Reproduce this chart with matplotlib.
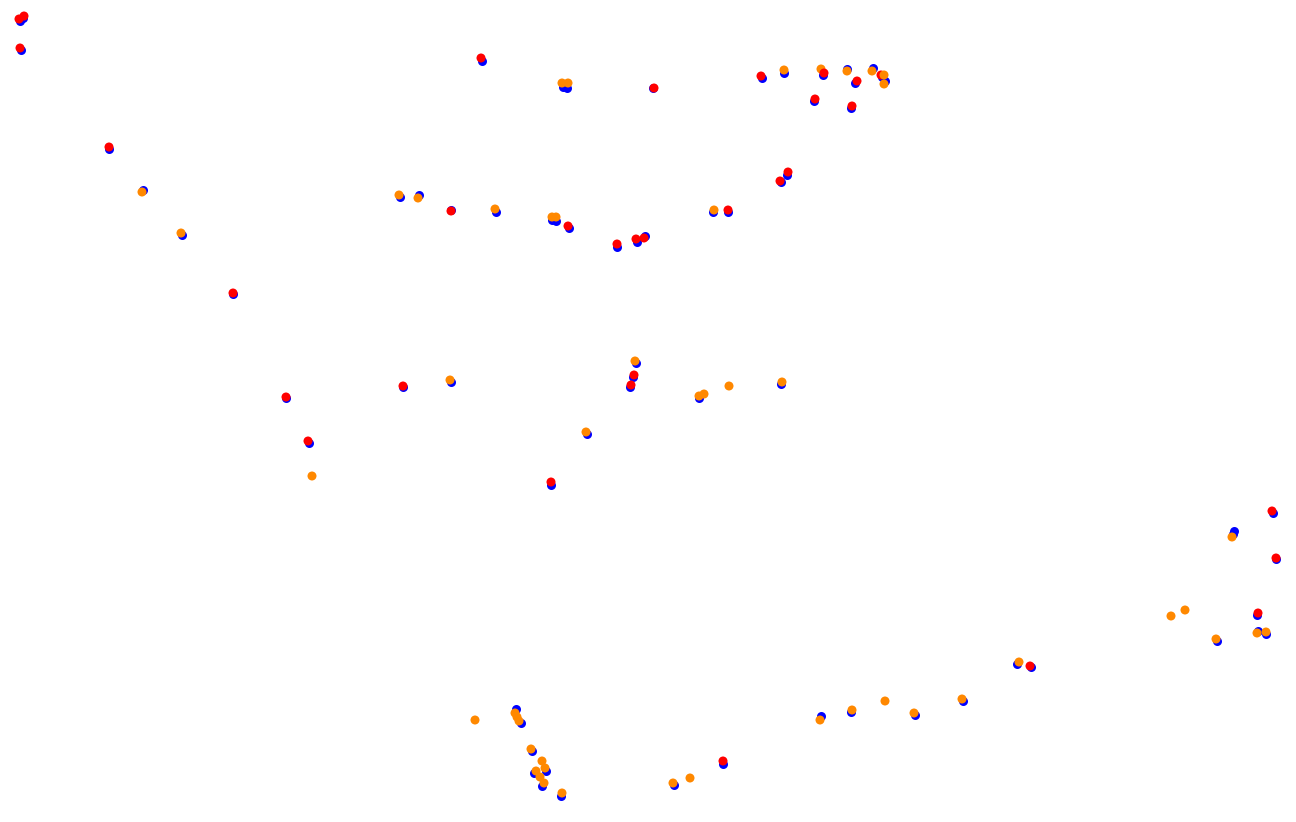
import matplotlib
matplotlib.use('Agg')
from matplotlib import pyplot as plt

# Blue base points (pixel coordinates)
blue_x = [20, 23, 21, 109, 143, 182, 233, 286, 403, 451, 309,
          482, 563, 567, 653, 762, 784, 823, 847, 873, 855, 882, 885, 814, 851,
          400, 419, 451, 496, 552, 556, 569, 617, 637, 645,
          713, 728, 781, 787,
          636, 633, 630, 699, 781, 587, 551,
          516, 521, 532, 546, 534, 542, 561,
          674, 723,
          821, 851, 915, 963, 1017, 1031,
          1273, 1234, 1233, 1276, 1257, 1217, 1258, 1266]
blue_y = [21, 18, 50, 149, 190, 235, 294, 398, 387, 382, 443,
          61, 87, 88, 88, 78, 73, 75, 69, 68, 83, 77, 81, 101, 108,
          197, 195, 210, 212, 220, 221, 228, 247, 242, 236,
          212, 212, 182, 175,
          363, 377, 387, 398, 384, 434, 485,
          709, 723, 751, 771, 773, 786, 796,
          785, 764,
          716, 712, 715, 701, 664, 667,
          513, 531, 534, 559, 615, 641, 631, 634]

# Red / orange points drawn on top
top_x = [19, 24, 20, 109, 142, 181, 233, 286, 403, 450, 308, 312,
         481, 562, 568, 654, 761, 784, 821, 824, 847, 872, 857, 881, 884, 884, 815, 852,
         399, 418, 451, 495, 552, 556, 568, 617, 636, 644,
         714, 728, 780, 788,
         635, 634, 631, 699, 704, 729, 782, 586, 551,
         475, 515, 517, 519, 531, 542, 545, 536, 540, 544, 562,
         673, 690, 723,
         820, 852, 885, 914, 962, 1019, 1030,
         1272, 1232, 1276, 1171, 1185, 1258, 1216, 1257, 1266]
top_y = [19, 16, 48, 147, 192, 233, 293, 397, 386, 380, 441, 476,
         58, 83, 83, 88, 76, 70, 69, 73, 71, 71, 81, 75, 75, 84, 99, 106,
         195, 198, 211, 209, 217, 217, 226, 244, 239, 238,
         210, 210, 181, 172,
         361, 375, 385, 396, 394, 386, 382, 432, 482,
         720, 713, 717, 721, 749, 761, 768, 771, 777, 783, 793,
         783, 778, 761,
         720, 710, 701, 713, 699, 662, 666,
         511, 537, 558, 616, 610, 613, 639, 633, 632]
top_c = ['r', 'r', 'r', 'r', 'o', 'o', 'r', 'r', 'r', 'o', 'r', 'o',
         'r', 'o', 'o', 'r', 'r', 'o', 'o', 'r', 'o', 'o', 'r', 'r', 'o', 'o', 'r', 'r',
         'o', 'o', 'r', 'o', 'o', 'o', 'r', 'r', 'r', 'r',
         'o', 'r', 'r', 'r',
         'o', 'r', 'r', 'o', 'o', 'o', 'o', 'o', 'r',
         'o', 'o', 'o', 'o', 'o', 'o', 'o', 'o', 'o', 'o', 'o',
         'o', 'o', 'r',
         'o', 'o', 'o', 'o', 'o', 'o', 'r',
         'r', 'o', 'r', 'o', 'o', 'r', 'o', 'o', 'o']

cores = {'r': '#ff0000', 'o': '#ff8800'}

fig = plt.figure(figsize=(12.96, 8.22), dpi=100)
ax = fig.add_axes([0, 0, 1, 1])
ax.scatter(blue_x, blue_y, s=42, c='#0000ff', linewidths=0)
ax.scatter(top_x, top_y, s=42, c=[cores[c] for c in top_c], linewidths=0)
ax.set_xlim(0, 1296)
ax.set_ylim(822, 0)
ax.axis('off')

fig.savefig('out.png', dpi=100)
